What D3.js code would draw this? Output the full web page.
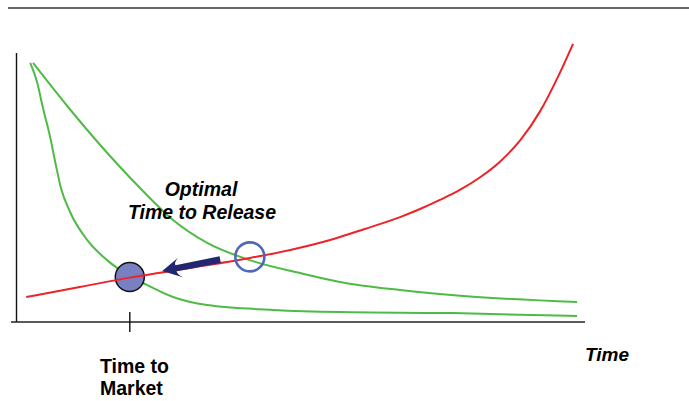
<!DOCTYPE html>
<html>
<head>
<meta charset="utf-8">
<script src="https://cdn.jsdelivr.net/npm/d3@7"></script>
<style>
  html, body { margin: 0; padding: 0; background: #fff; }
  svg { display: block; }
  text { font-family: "Liberation Sans", Arial, Helvetica, sans-serif; font-weight: bold; fill: #000; }
</style>
</head>
<body>
<script>
// Time axis (0–100) and value axis (0–100), abstract units
const redTime   = [1.8, 11.2, 20.0, 30.6, 41.1, 48.2, 55.2, 61.3, 67.5, 71.0, 74.5, 78.0, 81.5, 85.1, 88.6, 92.1, 95.6, 97.9];
const redValue  = [9.3, 13.0, 16.5, 20.1, 23.8, 26.8, 30.5, 34.6, 39.0, 42.0, 45.4, 49.1, 53.7, 59.7, 67.5, 78.3, 92.7, 103.4];

const fastTime  = [2.5, 3.7, 4.7, 6.0, 7.0, 7.9, 9.5, 12.5, 16.0, 20.0, 23.0, 27.6, 33.6, 45.2, 56.9, 76.8, 98.6];
const fastValue = [96.3, 89.2, 79.9, 68.8, 58.4, 49.8, 40.9, 30.5, 23.0, 17.1, 13.8, 9.3, 6.3, 4.5, 3.7, 3.3, 2.2];

const slowTime  = [3.0, 9.0, 14.8, 21.8, 27.6, 33.6, 41.1, 49.9, 56.9, 67.5, 78.6, 98.6];
const slowValue = [96.3, 80.3, 65.8, 49.8, 37.9, 29.4, 23.0, 18.2, 14.9, 11.9, 9.7, 7.4];

// Highlighted points: time to market (filled) and optimal release (open)
const marketPoint  = { t: 20.0, v: 16.7 };
const optimalPoint = { t: 41.1, v: 24.2 };
// Arrow from the optimal release point back toward time to market
const arrowFrom = { t: 35.9, v: 23.1 };
const arrowTo   = { t: 25.7, v: 19.0 };

const tickTimes = [20];
const labelTime = "Time";
const labelMarket = ["Time to", "Market"];
const labelOptimal = ["Optimal", "Time to Release"];

const W = 689, H = 401;
const svg = d3.select("body").append("svg").attr("width", W).attr("height", H);

const x = d3.scaleLinear().domain([0, 100]).range([16, 585]);
const y = d3.scaleLinear().domain([0, 100]).range([322, 53]);

// Header rule
svg.append("line")
  .attr("x1", 8).attr("x2", W).attr("y1", 8).attr("y2", 8)
  .attr("stroke", "#333").attr("stroke-width", 1.3);

// Axes
svg.append("line")
  .attr("x1", x(0) + 0.5).attr("x2", x(0) + 0.5).attr("y1", y(100)).attr("y2", y(0))
  .attr("stroke", "#111").attr("stroke-width", 1.4);
svg.append("line")
  .attr("x1", 11).attr("x2", x(100)).attr("y1", y(0)).attr("y2", y(0))
  .attr("stroke", "#222").attr("stroke-width", 1.6);
svg.selectAll(".tick").data(tickTimes).enter().append("line")
  .attr("x1", d => x(d)).attr("x2", d => x(d))
  .attr("y1", y(0) - 10).attr("y2", y(0) + 10)
  .attr("stroke", "#111").attr("stroke-width", 1.4);

const line = d3.line().x(d => x(d[0])).y(d => y(d[1])).curve(d3.curveMonotoneX);

function series(ts, vs) { return ts.map((t, i) => [t, vs[i]]); }

svg.append("path").datum(series(fastTime, fastValue))
  .attr("d", line).attr("fill", "none").attr("stroke", "#4fbb45").attr("stroke-width", 2);
svg.append("path").datum(series(slowTime, slowValue))
  .attr("d", line).attr("fill", "none").attr("stroke", "#4fbb45").attr("stroke-width", 2);

// Filled market point sits beneath the red line
svg.append("circle")
  .attr("cx", x(marketPoint.t)).attr("cy", y(marketPoint.v)).attr("r", 14.5)
  .attr("fill", "#7880c2").attr("stroke", "#111").attr("stroke-width", 1.5);

svg.append("path").datum(series(redTime, redValue))
  .attr("d", line).attr("fill", "none").attr("stroke", "#ec2327").attr("stroke-width", 2);

svg.append("circle")
  .attr("cx", x(optimalPoint.t)).attr("cy", y(optimalPoint.v)).attr("r", 14.5)
  .attr("fill", "none").attr("stroke", "#4d68b6").attr("stroke-width", 2.6);

// Swept arrow
{
  const x0 = x(arrowTo.t), y0 = y(arrowTo.v);
  const x1 = x(arrowFrom.t), y1 = y(arrowFrom.v);
  const L = Math.hypot(x1 - x0, y1 - y0);
  const ang = Math.atan2(y1 - y0, x1 - x0) * 180 / Math.PI;
  const p = d3.path();
  p.moveTo(0, 0);
  p.lineTo(18, -10);
  p.quadraticCurveTo(13, -6, 14, -3);
  p.lineTo(L, -3.8);
  p.lineTo(L, 3.2);
  p.lineTo(14, 3);
  p.quadraticCurveTo(14, 6, 19, 10);
  p.closePath();
  svg.append("path")
    .attr("d", p.toString())
    .attr("transform", `translate(${x0},${y0}) rotate(${ang})`)
    .attr("fill", "#22276f");
}

// Labels
const opt = svg.append("text").attr("font-size", 19.5).attr("font-style", "italic").attr("text-anchor", "middle");
opt.append("tspan").attr("x", 201).attr("y", 196).text(labelOptimal[0]);
opt.append("tspan").attr("x", 202).attr("y", 219).text(labelOptimal[1]);

const mk = svg.append("text").attr("font-size", 19.5);
mk.append("tspan").attr("x", 100).attr("y", 373).text(labelMarket[0]);
mk.append("tspan").attr("x", 100).attr("y", 395).text(labelMarket[1]);

svg.append("text").attr("font-size", 19).attr("font-style", "italic")
  .attr("x", 585).attr("y", 361).text(labelTime);
</script>
</body>
</html>
